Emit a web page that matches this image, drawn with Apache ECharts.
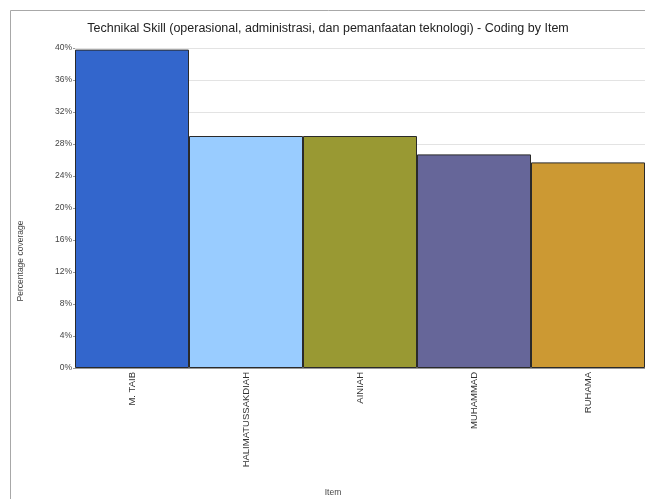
<!DOCTYPE html>
<html>
<head>
<meta charset="utf-8">
<script src="https://cdn.jsdelivr.net/npm/echarts@6/dist/echarts.min.js"></script>
<style>
  html, body { margin: 0; padding: 0; background: #fff; }
  #chart { width: 645px; height: 499px; }
</style>
</head>
<body>
<div id="chart"></div>
<script>
// Coding coverage per interviewee
const items = ['M. TAIB', 'HALIMATUSSAKDIAH', 'AINIAH', 'MUHAMMAD', 'RUHAMA'];
const coverage = [39.8, 29.0, 29.0, 26.7, 25.7];
const barColors = ['#3366CC', '#99CCFF', '#999933', '#666699', '#CC9933'];
const yTicks = [0, 4, 8, 12, 16, 20, 24, 28, 32, 36, 40];

const chart = echarts.init(document.getElementById('chart'), null, { renderer: 'canvas' });

chart.setOption({
  backgroundColor: '#fff',
  animation: false,
  title: {
    text: 'Technikal Skill (operasional, administrasi, dan pemanfaatan teknologi) - Coding by Item',
    left: 323,
    top: 17,
    textAlign: 'center',
    textStyle: { fontFamily: 'Liberation Sans', fontSize: 12.5, fontWeight: 'normal', color: '#222' }
  },
  graphic: [{
    type: 'rect',
    shape: { x: 10.5, y: 10.5, width: 700, height: 600 },
    style: { fill: 'none', stroke: '#a8a8a8', lineWidth: 1 },
    silent: true
  }],
  grid: { left: 75, right: 0, top: 48, bottom: 131, outerBoundsMode: 'none', containLabel: false },
  xAxis: {
    type: 'category',
    data: items,
    name: 'Item',
    nameLocation: 'middle',
    nameGap: 120,
    nameTextStyle: { fontFamily: 'Liberation Sans', fontSize: 8.5, color: '#444', padding: [0, 54, 0, 0] },
    axisLine: { lineStyle: { color: '#999' } },
    axisTick: { show: false },
    axisLabel: {
      rotate: 90,
      margin: 4,
      interval: 0,
      fontFamily: 'Liberation Sans',
      fontSize: 9.5,
      color: '#333'
    }
  },
  yAxis: {
    type: 'value',
    min: 0,
    max: 40,
    interval: 4,
    name: 'Percentage coverage',
    nameLocation: 'middle',
    nameGap: 50,
    nameTextStyle: { fontFamily: 'Liberation Sans', fontSize: 8.5, color: '#444', padding: [0, 106, 0, 0] },
    axisLine: { show: false },
    axisTick: { show: true, length: 2, lineStyle: { color: '#999' } },
    axisLabel: {
      margin: 3,
      fontFamily: 'Liberation Sans',
      fontSize: 8.5,
      color: '#444',
      formatter: v => (yTicks.includes(v) ? v + '%' : '')
    },
    splitLine: { show: true, lineStyle: { color: '#e3e3e3', width: 1 } }
  },
  series: [{
    type: 'bar',
    data: coverage.map((v, i) => ({ value: v, itemStyle: { color: barColors[i] } })),
    barCategoryGap: '0%',
    itemStyle: { borderColor: '#2a2a2a', borderWidth: 1 }
  }]
});
</script>
</body>
</html>
